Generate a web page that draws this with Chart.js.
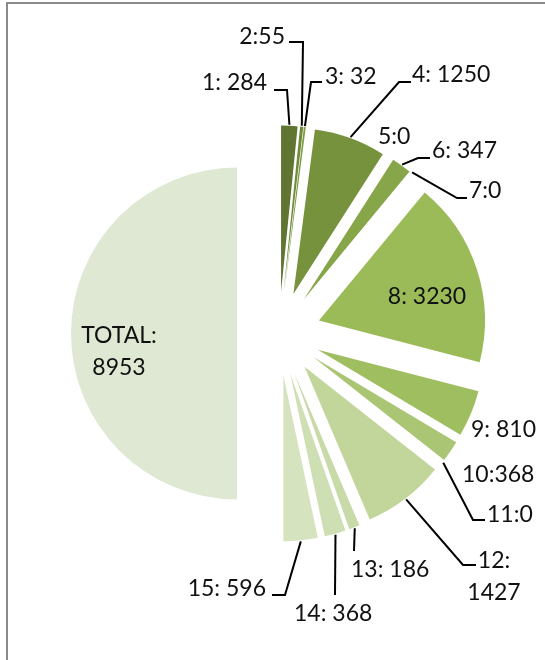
<!DOCTYPE html>
<html>
<head>
<meta charset="utf-8">
<script src="https://cdn.jsdelivr.net/npm/chart.js@4.4.0/dist/chart.umd.min.js"></script>
<style>
  html, body { margin: 0; padding: 0; background: #fff; overflow: hidden; }
  canvas { position: absolute; left: 0; top: 0; }
  #frame {
    position: absolute; left: 6px; top: 2px; width: 600px; height: 700px;
    border-top: 2px solid #8a8a8a; border-left: 2px solid #8a8a8a;
    pointer-events: none;
  }
</style>
</head>
<body>
<canvas id="myChart" width="545" height="660"></canvas>
<div id="frame"></div>
<script>
// data
const categories = ["1", "2", "3", "4", "5", "6", "7", "8", "9", "10", "11", "12", "13", "14", "15", "TOTAL"];
const values = [284, 55, 32, 1250, 0, 347, 0, 3230, 810, 368, 0, 1427, 186, 368, 596, 8953];
const separators = [": ", ":", ": ", ": ", ":", ": ", ":", ": ", ": ", ":", ":", ":\n", ": ", ": ", ": ", ":\n"];

const colors = [
  "#5f7531", "#6f8b39", "#7d9b42", "#76923c", "#80a044", "#87a649", "#90ae51", "#9bbb59",
  "#9fbe60", "#aac674", "#b5cd88", "#c2d69b", "#c8daa7", "#cedfb3", "#d6e3bf", "#dfe8d3"
];

const EXPLODE = 42;

// where each label sits, and the bend points of its leader line
const labelLayout = [
  { x: 267, y: 90, align: "right", leader: [[287, 90], [274, 90]] },
  { x: 285, y: 44, align: "right", leader: [[303, 42], [289, 42]] },
  { x: 325, y: 84, align: "left", leader: [[311, 82], [322, 82]] },
  { x: 412, y: 82, align: "left", leader: [[399, 82], [411, 82]] },
  { x: 378, y: 144, align: "left" },
  { x: 432, y: 158, align: "left", leader: [[418, 158], [430, 158]] },
  { x: 469, y: 198, align: "left", leader: [[457, 198], [467, 198]] },
  { x: 427, y: 304, align: "center" },
  { x: 471, y: 437, align: "left" },
  { x: 462, y: 482, align: "left" },
  { x: 487, y: 522, align: "left", leader: [[473, 520], [485, 520]] },
  { x: 494, y: 568, align: "center", leader: [[463, 565], [476, 565]] },
  { x: 351, y: 577, align: "left", leader: [[354, 551]] },
  { x: 294, y: 621, align: "left", leader: [[335, 595]] },
  { x: 266, y: 596, align: "right", leader: [[285, 595], [272, 595]] },
  { x: 119, y: 343, align: "center" }
];

// every slice pulled out from the centre the same distance (like Excel's explosion)
const explodePlugin = {
  id: "explode",
  beforeDatasetDraw(chart, args) {
    const ctx = chart.ctx;
    args.meta.data.forEach(arc => {
      const mid = (arc.startAngle + arc.endAngle) / 2;
      ctx.save();
      ctx.translate(Math.cos(mid) * EXPLODE, Math.sin(mid) * EXPLODE);
      arc.draw(ctx);
      ctx.restore();
    });
    return false;
  }
};

const labelPlugin = {
  id: "sliceLabels",
  afterDatasetsDraw(chart) {
    const ctx = chart.ctx;
    const arcs = chart.getDatasetMeta(0).data;
    ctx.save();
    ctx.font = "23px Lato";
    ctx.fillStyle = "#111";
    ctx.strokeStyle = "#000";
    ctx.lineWidth = 2;
    ctx.textBaseline = "alphabetic";

    arcs.forEach((arc, i) => {
      const lay = labelLayout[i];
      if (lay.leader) {
        const mid = (arc.startAngle + arc.endAngle) / 2;
        const d = EXPLODE + arc.outerRadius + 1;
        ctx.beginPath();
        ctx.moveTo(arc.x + Math.cos(mid) * d, arc.y + Math.sin(mid) * d);
        lay.leader.forEach(p => ctx.lineTo(p[0], p[1]));
        ctx.stroke();
      }
      const text = categories[i] + separators[i] + values[i];
      ctx.textAlign = lay.align;
      text.split("\n").forEach((line, k) => {
        ctx.fillText(line, lay.x, lay.y + k * 32);
      });
    });
    ctx.restore();
  }
};

document.addEventListener("DOMContentLoaded", () => {
  const ctx = document.getElementById("myChart").getContext("2d");
  new Chart(ctx, {
    type: "pie",
    data: {
      labels: categories,
      datasets: [{
        data: values,
        backgroundColor: colors,
        borderWidth: 0,
        radius: 166
      }]
    },
    options: {
      responsive: false,
      animation: false,
      layout: { padding: { left: 13, top: 7, right: 0, bottom: 0 } },
      plugins: {
        legend: { display: false },
        tooltip: { enabled: false }
      }
    },
    plugins: [explodePlugin, labelPlugin]
  });
});
</script>
</body>
</html>
